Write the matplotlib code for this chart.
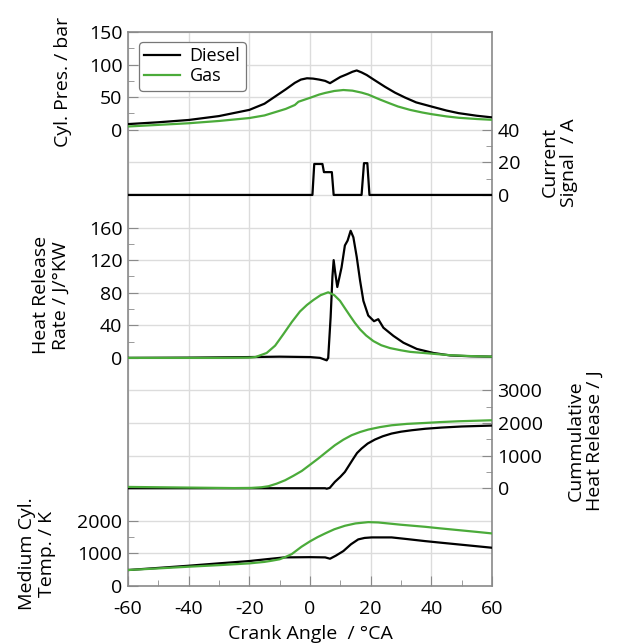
import matplotlib
matplotlib.use("Agg")
import matplotlib.pyplot as plt

plt.rcParams['font.family'] = ['Open Sans', 'DejaVu Sans']
plt.rcParams['axes.unicode_minus'] = False

# ---------------- data ----------------
ca_p_diesel = [-60, -50, -40, -30, -20, -15, -11.5, -8, -5, -3, -1, 1, 3, 5, 6.6, 8.2, 10, 12.1, 14, 15.4, 17,
               18.7, 21, 24.7, 28, 31.3, 35, 40, 45, 49, 55, 60]
p_diesel = [8.7, 11.5, 15, 21, 30.5, 40, 51, 62, 72, 77, 79, 78.5, 77, 75, 71.5, 76, 81, 85, 89, 91, 88,
            84, 77, 66, 57, 49.5, 42, 35.7, 29.5, 25.5, 21.5, 19]
ca_p_gas = [-60, -50, -40, -30, -20, -15, -11.5, -8, -5, -3.8, -1.6, 0, 3, 5, 8, 11, 14, 17, 19.2, 23, 26, 29,
            33, 37, 40, 45, 49, 55, 60]
p_gas = [5, 7.5, 10, 13.5, 18, 22, 27, 32, 38, 43, 46.5, 49, 54, 56.5, 59.5, 61, 60, 57, 54, 46.5, 41, 35.7,
         30.5, 26.5, 24, 20.5, 18.4, 16.5, 15.3]

ca_current = [-60, 0.8, 1.4, 4.1, 4.6, 7.2, 7.8, 17.0, 17.8, 18.9, 19.6, 60]
current = [0, 0, 19, 19, 14, 14, 0, 0, 19.5, 19.5, 0, 0]

ca_hrr_diesel = [-60, -40, -20, -10, 0, 3.3, 5.5, 6.0, 6.8, 7.4, 7.8, 8.3, 9.0, 10.4, 11.5, 12.4, 13.4, 14.3,
                 15.4, 16.5, 17.6, 19.2, 21.1, 22.5, 24.2, 27.5, 30.8, 35.2, 40.7, 46.2, 53, 60]
hrr_diesel = [0, 0.3, 1, 1.5, 1, 0, -3, 0, 50, 100, 120, 105, 87, 111, 138, 144, 156, 148,
              124, 95, 70, 52, 45, 47.5, 37, 27, 18.6, 11, 6, 3, 2, 1.5]
ca_hrr_gas = [-60, -30, -20, -18, -14.3, -11.5, -8.8, -6, -3.3, -1, 1.1, 3.5, 6, 8, 9.9, 11.5, 13.2, 14.8,
              16.5, 18.5, 20.9, 23.5, 26.4, 30, 33, 40.7, 46.2, 53, 60]
hrr_gas = [0, 0, 0.3, 1, 6, 15, 29, 44, 57, 65, 71, 77, 80.5, 77, 70, 61, 51.6, 43,
           35, 27.5, 20.6, 15.5, 12, 9.3, 7.4, 5, 3.3, 2.2, 1.5]

ca_cum_diesel = [-60, -20, 5, 5.5, 6.5, 8.2, 10, 11.5, 13, 14.3, 15.5, 17, 19, 21.4, 24, 26.9, 30, 33.5, 38,
                 43.4, 50, 60]
cum_diesel = [0, 0, 0, -15, 10, 195, 350, 500, 720, 910, 1080, 1218, 1370, 1494, 1595, 1678, 1735, 1779, 1825,
              1862, 1895, 1923]
ca_cum_gas = [-60, -40, -25, -19.3, -16, -13.7, -11, -8.2, -5.5, -2.7, 0, 2.7, 5.5, 8.2, 11, 13.7, 16.5, 19.2,
              23, 26.9, 32, 37.9, 43, 48.9, 55, 60]
cum_gas = [40, 20, 5, 10, 30, 61, 140, 245, 380, 531, 720, 910, 1120, 1319, 1490, 1626, 1725, 1800,
           1875, 1932, 1975, 2003, 2030, 2055, 2072, 2086]

ca_t_diesel = [-60, -50, -40, -30, -20, -14, -8.4, 0, 5, 6.6, 8.5, 11, 13.5, 15.9, 18, 20.3, 26.9, 32, 37.9,
               43, 48.9, 55, 60]
t_diesel = [490, 555, 622, 695, 766, 825, 878, 885, 878, 837, 930, 1072, 1280, 1430, 1475, 1491, 1491, 1440, 1378,
            1330, 1276, 1220, 1174]
ca_t_gas = [-60, -50, -40, -30, -20, -15, -12.6, -10, -8.4, -6, -2.8, 0, 2.5, 5, 8, 11.5, 15, 19.2, 22.5, 30,
            37.9, 43, 48.9, 55, 60]
t_gas = [490, 540, 592, 640, 694, 740, 776, 820, 878, 980, 1205, 1370, 1500, 1613, 1740, 1848, 1920, 1960, 1950,
         1880, 1817, 1768, 1715, 1660, 1613]

x_ticks = [-60, -40, -20, 0, 20, 40, 60]

# ---------------- style ----------------
BLACK = '#000000'
GREEN = '#4bab3a'
SPINE = '#8a8a8a'
GRID = '#dcdcdc'
LW = 1.6
FS = 14

fig = plt.figure(figsize=(6.18, 6.43), dpi=100)
rect = [128 / 618, 1 - 586 / 643, 364 / 618, 554 / 643]

bg = fig.add_axes(rect)
bg.set_xlim(-60, 60)
bg.set_ylim(0, 17)
bg.set_xticks(x_ticks)
bg.set_xticks([-50, -30, -10, 10, 30, 50], minor=True)
bg.set_yticks(range(18))
bg.tick_params(axis='y', length=0, labelleft=False)
bg.tick_params(axis='x', which='major', direction='in', length=7, color=SPINE, labelsize=FS, pad=10)
bg.tick_params(axis='x', which='minor', direction='in', length=4, color=SPINE)
bg.grid(True, color=GRID, lw=1)
bg.set_axisbelow(True)
for s in bg.spines.values():
    s.set_color(SPINE)
    s.set_linewidth(1.2)
bg.set_xlabel('Crank Angle  / °CA', fontsize=FS, labelpad=5)


def overlay(ylim, side, major, minor, label, lx, ly):
    a = fig.add_axes(rect, sharex=bg)
    a.patch.set_visible(False)
    for s in a.spines.values():
        s.set_visible(False)
    a.tick_params(axis='x', which='both', bottom=False, top=False, labelbottom=False)
    a.set_ylim(ylim)
    a.set_yticks(major)
    a.set_yticks(minor, minor=True)
    a.yaxis.set_ticks_position(side)
    a.yaxis.set_label_position(side)
    a.tick_params(axis='y', which='major', direction='in', length=7, color=SPINE, labelsize=FS, pad=4)
    a.tick_params(axis='y', which='minor', direction='in', length=4, color=SPINE)
    a.set_ylabel(label, fontsize=FS, linespacing=1.1)
    a.yaxis.label.set_verticalalignment('center')
    a.yaxis.label.set_horizontalalignment('center')
    a.yaxis.set_label_coords(lx, ly)
    return a


ax_p = overlay((-700, 150), 'left', [0, 50, 100, 150], [25, 75, 125],
               'Cyl. Pres. / bar', -0.179, 0.910)
ax_c = overlay((-240, 100), 'right', [0, 20, 40], [10, 30],
               'Current\nSignal  / A', 1.184, 0.765)
ax_h = overlay((-280, 400), 'left', [0, 40, 80, 120, 160], [20, 60, 100, 140],
               'Heat Release\nRate / J/°KW', -0.212, 0.525)
ax_q = overlay((-3000, 14000), 'right', [0, 1000, 2000, 3000], [500, 1500, 2500],
               'Cummulative\nHeat Release / J', 1.256, 0.263)
ax_t = overlay((0, 17000), 'left', [0, 1000, 2000], [500, 1500],
               'Medium Cyl.\nTemp. / K', -0.25, 0.058)

ax_p.plot(ca_p_diesel, p_diesel, color=BLACK, lw=LW, label='Diesel')
ax_p.plot(ca_p_gas, p_gas, color=GREEN, lw=LW, label='Gas')
ax_c.plot(ca_current, current, color=BLACK, lw=LW)
ax_h.plot(ca_hrr_diesel, hrr_diesel, color=BLACK, lw=LW)
ax_h.plot(ca_hrr_gas, hrr_gas, color=GREEN, lw=LW)
ax_q.plot(ca_cum_diesel, cum_diesel, color=BLACK, lw=LW)
ax_q.plot(ca_cum_gas, cum_gas, color=GREEN, lw=LW)
ax_t.plot(ca_t_diesel, t_diesel, color=BLACK, lw=LW)
ax_t.plot(ca_t_gas, t_gas, color=GREEN, lw=LW)

leg = ax_p.legend(loc='upper left', bbox_to_anchor=(0.03, 0.982), borderaxespad=0, fontsize=13,
                  fancybox=True, framealpha=1, edgecolor='#777777', handlelength=2.0,
                  handletextpad=0.5, borderpad=0.3, labelspacing=0.1)
leg.get_frame().set_linewidth(0.9)

fig.savefig('out.png', dpi=100)
